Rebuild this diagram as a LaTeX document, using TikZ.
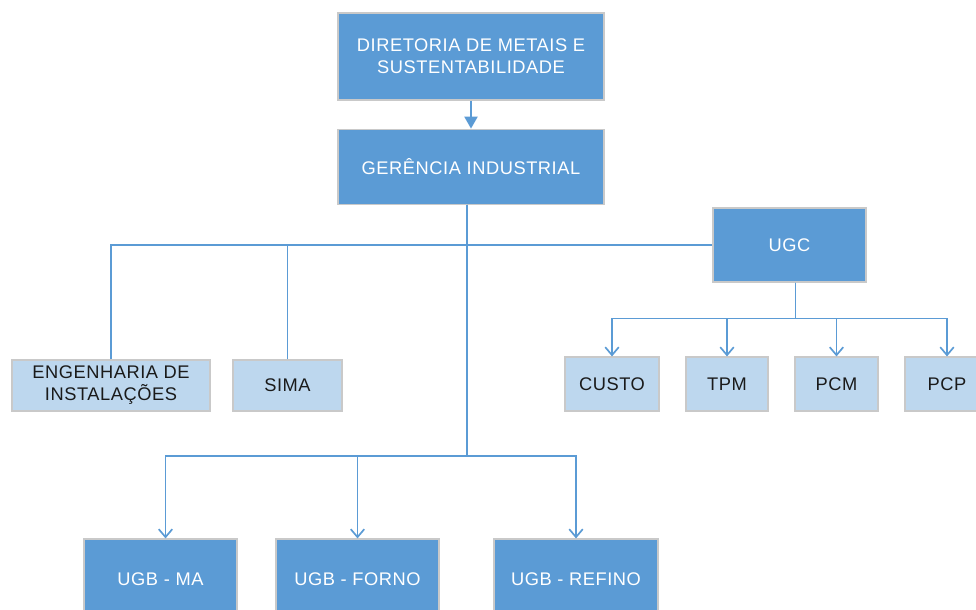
\documentclass[tikz,border=0pt]{standalone}
\usepackage{fontspec}
\setmainfont[LetterSpace=3]{Liberation Sans}
\usetikzlibrary{arrows.meta,positioning}

\definecolor{escuro}{HTML}{5B9BD5}
\definecolor{claro}{HTML}{BDD7EE}
\definecolor{borda}{HTML}{C9C9C9}
\definecolor{texto}{HTML}{1A1A1A}

\tikzset{
	caixa/.style={draw=borda,line width=0.8pt,fill=escuro,text=white,align=center,
		font=\fontsize{13}{15.6}\selectfont,inner sep=0pt},
	caixaclara/.style={caixa,fill=claro,text=texto},
	ligacao/.style={draw=escuro,line width=1.2pt},
	seta/.style={ligacao,-{Straight Barb[length=2mm,width=3.4mm]}}
}

\begin{document}
\begin{tikzpicture}[x=0.025cm,y=-0.025cm]
	\clip (0,0) rectangle (976,610);
	\fill[white] (0,0) rectangle (976,610);

	\node[caixa,minimum width=6.65cm,minimum height=2.175cm] (dir) at (471,56.5) {DIRETORIA DE METAIS E\\SUSTENTABILIDADE};
	\node[caixa,minimum width=6.65cm,minimum height=1.875cm,below=0.7cm of dir] (ger) {GERÊNCIA INDUSTRIAL};
	\node[caixa,minimum width=3.825cm,minimum height=1.85cm] (ugc) at (789.5,245) {UGC};

	\node[caixaclara,minimum width=4.95cm,minimum height=1.275cm] (eng) at (111,385.5) {ENGENHARIA DE\\INSTALAÇÕES};
	\node[caixaclara,minimum width=2.725cm,minimum height=1.275cm] (sima) at (287.5,385.5) {SIMA};

	\node[caixaclara,minimum width=2.35cm,minimum height=1.35cm] (custo) at (612,384) {CUSTO};
	\node[caixaclara,minimum width=2.05cm,minimum height=1.35cm] (tpm) at (727,384) {TPM};
	\node[caixaclara,minimum width=2.075cm,minimum height=1.35cm] (pcm) at (836.5,384) {PCM};
	\node[caixaclara,minimum width=2.1cm,minimum height=1.35cm] (pcp) at (947,384) {PCP};

	\node[caixa,minimum width=3.825cm,minimum height=2cm] (ma) at (160.5,579) {UGB - MA};
	\node[caixa,minimum width=4.075cm,minimum height=2cm] (forno) at (357.5,579) {UGB - FORNO};
	\node[caixa,minimum width=4.1cm,minimum height=2cm] (refino) at (576,579) {UGB - REFINO};

	% diretoria -> gerencia
	\draw[ligacao,-{Triangle[length=3mm,width=3.3mm]}] (dir) -- (ger);

	% apoio e UGC
	\draw[ligacao] (eng.north) |- (ugc.west);
	\draw[ligacao] (sima.north) -- (sima.north |- ugc.west);
	\draw[ligacao] ([xshift=-0.1cm]ger.south) -- ([xshift=-0.1cm]ger.south |- ugc.west);

	% UGC -> areas
	\foreach \n in {custo,tpm,pcm,pcp}
		\draw[seta] ([xshift=0.15cm]ugc.south) -- ++(0,36) -| (\n.north);

	% gerencia -> UGBs
	\foreach \n/\dx in {ma/0.125cm,forno/0cm,refino/0cm}
		\draw[seta] ([xshift=-0.1cm]ger.south) -- ++(0,251) -| ([xshift=\dx]\n.north);
\end{tikzpicture}
\end{document}
